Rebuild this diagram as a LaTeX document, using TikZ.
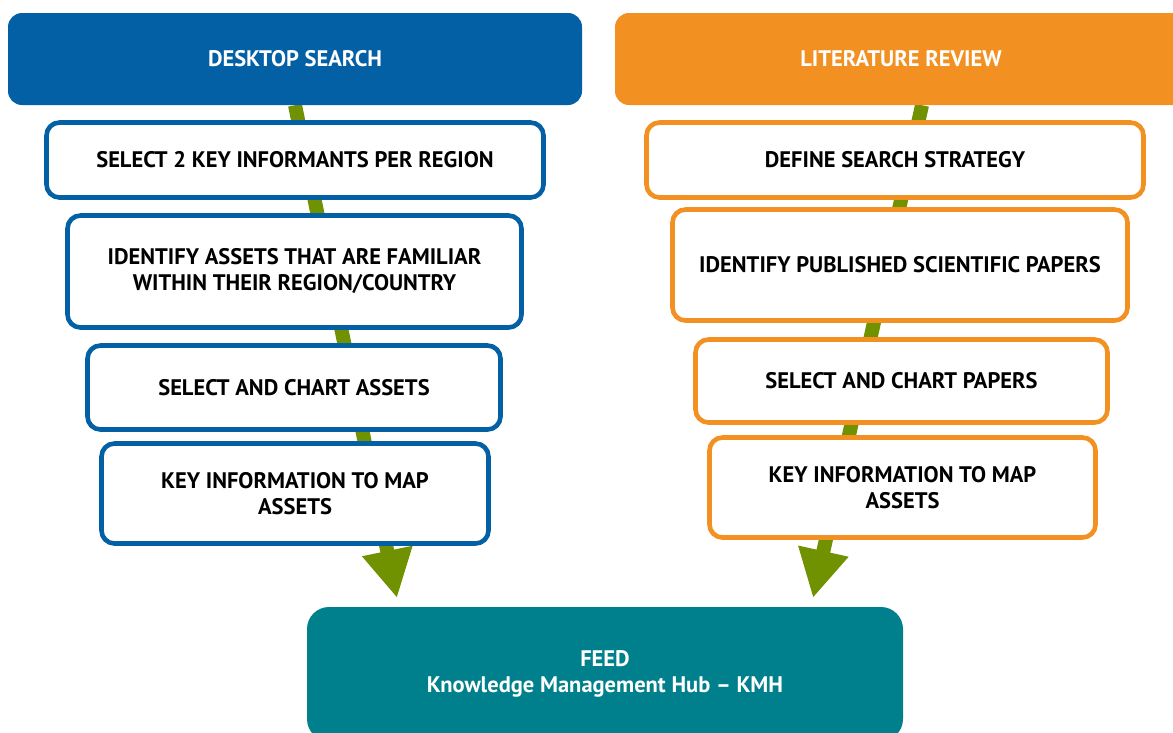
\documentclass[tikz,border=0pt]{standalone}
\usepackage{fontspec}
\setmainfont{PT Sans}
\usetikzlibrary{arrows.meta,backgrounds}
\definecolor{dsblue}{RGB}{3,96,164}
\definecolor{lrorange}{RGB}{242,145,34}
\definecolor{hubteal}{RGB}{0,128,140}
\definecolor{flowgreen}{RGB}{112,145,0}
\begin{document}
\begin{tikzpicture}[x=1pt,y=-1pt,
  boxfont/.style={font=\bfseries\fontsize{22.5}{26}\selectfont},
  header/.style={boxfont, rounded corners=14pt, text=white, align=center,
    inner sep=0pt},
  stepbox/.style={boxfont, draw=#1, line width=4.6pt, rounded corners=13pt,
    fill=white, align=center, inner sep=0pt},
  flow/.style={draw=flowgreen, line width=14pt,
    -{Triangle[width=48pt,length=48pt,fill=flowgreen]}}
]
\useasboundingbox (0,0) rectangle (1173,732);
\clip (0,0) rectangle (1173,732);

% Desktop search column
\node[header, fill=dsblue, minimum width=574pt, minimum height=92pt]
  (hdrL) at (295,59) {DESKTOP SEARCH};
\node[stepbox=dsblue, minimum width=497pt, minimum height=75pt]
  (l1) at (295,160) {SELECT 2 KEY INFORMANTS PER REGION};
\node[stepbox=dsblue, minimum width=454pt, minimum height=112pt]
  (l2) at (294.5,271.5) {IDENTIFY ASSETS THAT ARE FAMILIAR\\WITHIN THEIR REGION/COUNTRY};
\node[stepbox=dsblue, minimum width=413pt, minimum height=84pt]
  (l3) at (294,387.5) {SELECT AND CHART ASSETS};
\node[stepbox=dsblue, minimum width=387pt, minimum height=100pt]
  (l4) at (295,493.5) {KEY INFORMATION TO MAP\\ASSETS};

% Literature review column
\node[header, fill=lrorange, minimum width=572pt, minimum height=92pt]
  (hdrR) at (901,59) {LITERATURE REVIEW};
\node[stepbox=lrorange, minimum width=497pt, minimum height=75pt]
  (r1) at (895,160) {DEFINE SEARCH STRATEGY};
\node[stepbox=lrorange, minimum width=455pt, minimum height=111pt]
  (r2) at (900,265) {IDENTIFY PUBLISHED SCIENTIFIC PAPERS};
\node[stepbox=lrorange, minimum width=412pt, minimum height=83pt]
  (r3) at (901.5,381) {SELECT AND CHART PAPERS};
\node[stepbox=lrorange, minimum width=386pt, minimum height=100pt]
  (r4) at (902.5,487.5) {KEY INFORMATION TO MAP\\ASSETS};

% Shared destination
\node[header, fill=hubteal, rounded corners=22pt, minimum width=596pt,
  minimum height=134pt] (hub) at (605,674)
  {FEED\\Knowledge Management Hub – KMH};

% Flow arrows running behind the boxes
\coordinate (ltip) at (397,598);
\coordinate (rtip) at (813,598);
\begin{scope}[on background layer]
  \draw[flow] (hdrL.south) -- (ltip);
  \draw[flow] ([xshift=21pt]hdrR.south) -- (rtip);
\end{scope}
\end{tikzpicture}
\end{document}
